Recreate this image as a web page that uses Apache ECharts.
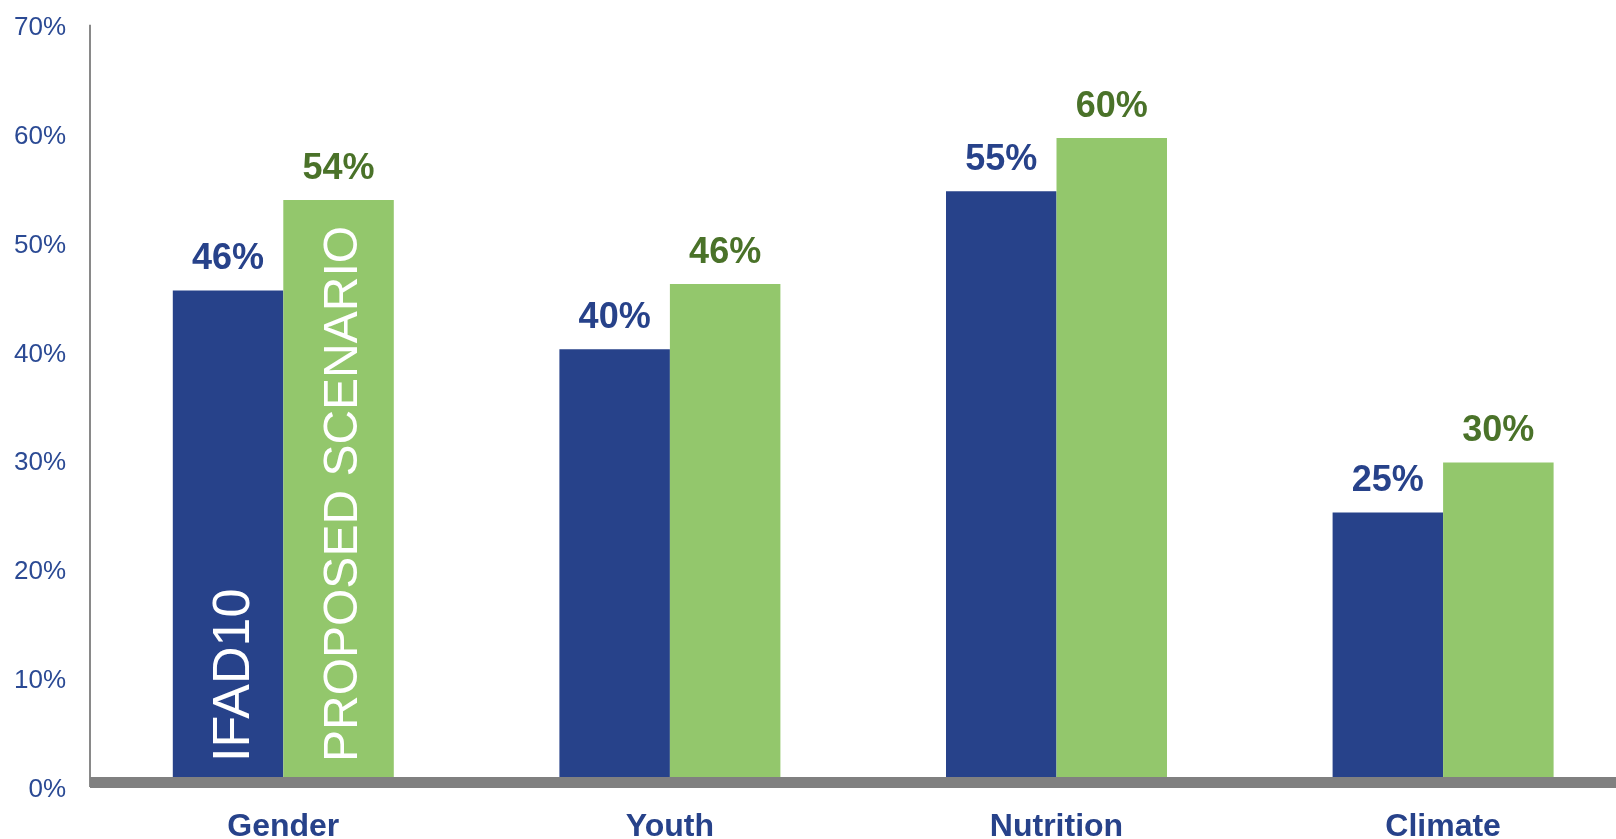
<!DOCTYPE html>
<html>
<head>
<meta charset="utf-8">
<script src="https://cdn.jsdelivr.net/npm/echarts@6/dist/echarts.min.js"></script>
<style>
html,body{margin:0;padding:0;background:#fff;overflow:hidden;}
#chart{width:1616px;height:839px;}
</style>
</head>
<body>
<div id="chart"></div>
<script>
const categories = ['Gender', 'Youth', 'Nutrition', 'Climate'];
const seriesNames = ['IFAD10', 'PROPOSED SCENARIO'];
const ifad10 = [45.6, 40.2, 54.7, 25.2];
const proposed = [53.9, 46.2, 59.6, 29.8];
const yMin = 0, yMax = 70, yStep = 10;

const FONT = 'Arial, "Liberation Sans", sans-serif';
const BLUE = '#27428A';
const GREEN = '#93C76C';
const DARKGREEN = '#4A7229';
const LABEL_BLUE = '#2B4A94';

const chart = echarts.init(document.getElementById('chart'));

function pct(p) { return Math.round(p.value) + '%'; }

const overlayIfad = ifad10.map((v, i) => i === 0 ? v : null);
const overlayProp = proposed.map((v, i) => i === 0 ? v : null);

chart.setOption({
  animation: false,
  backgroundColor: '#fff',
  grid: { left: 90, top: 24.7, width: 1546.4, height: 762.3, outerBoundsMode: 'none', containLabel: false },
  xAxis: [{
    type: 'category',
    data: categories,
    z: 5,
    offset: -4.5,
    axisLine: { show: true, lineStyle: { color: '#808080', width: 11, cap: 'butt' } },
    axisTick: { show: false },
    axisLabel: { margin: 29, color: BLUE, fontSize: 32, fontWeight: 'bold', fontFamily: FONT }
  }, {
    type: 'category',
    data: categories,
    show: false
  }],
  yAxis: {
    type: 'value',
    min: yMin, max: yMax, interval: yStep,
    axisLine: { show: true, lineStyle: { color: '#898989', width: 2, cap: 'butt' } },
    axisTick: { show: false },
    splitLine: { show: false },
    axisLabel: { margin: 24, color: LABEL_BLUE, fontSize: 26, fontFamily: FONT,
      formatter: v => '{a|' + v + '%}',
      rich: { a: { color: LABEL_BLUE, fontSize: 26, fontFamily: FONT, padding: [6, 0, 0, 0] } } }
  },
  series: [{
    name: seriesNames[0],
    type: 'bar',
    data: ifad10,
    barWidth: 110.5,
    barGap: '0%',
    itemStyle: { color: BLUE },
    label: { show: true, position: 'top', distance: 13, formatter: pct, color: BLUE, fontSize: 36, fontWeight: 'bold', fontFamily: FONT }
  }, {
    name: seriesNames[1],
    type: 'bar',
    data: proposed,
    barWidth: 110.5,
    barGap: '0%',
    itemStyle: { color: GREEN },
    label: { show: true, position: 'top', distance: 13, formatter: pct, color: DARKGREEN, fontSize: 36, fontWeight: 'bold', fontFamily: FONT }
  }, {
    type: 'bar',
    xAxisIndex: 1,
    data: overlayIfad,
    barWidth: 110.5,
    barGap: '0%',
    z: 3,
    silent: true,
    itemStyle: { color: 'rgba(0,0,0,0)' },
    label: { show: true, position: 'insideBottom', distance: 25, rotate: 90, align: 'left', verticalAlign: 'middle',
      offset: [0, 7], formatter: () => seriesNames[0], color: '#fff', fontSize: 52, fontFamily: FONT }
  }, {
    type: 'bar',
    xAxisIndex: 1,
    data: overlayProp,
    barWidth: 110.5,
    barGap: '0%',
    z: 3,
    silent: true,
    itemStyle: { color: 'rgba(0,0,0,0)' },
    label: { show: true, position: 'insideBottom', distance: 25, rotate: 90, align: 'left', verticalAlign: 'middle',
      offset: [0, 5], formatter: () => seriesNames[1], color: '#fff', fontSize: 48, fontFamily: FONT }
  }]
});
</script>
</body>
</html>
